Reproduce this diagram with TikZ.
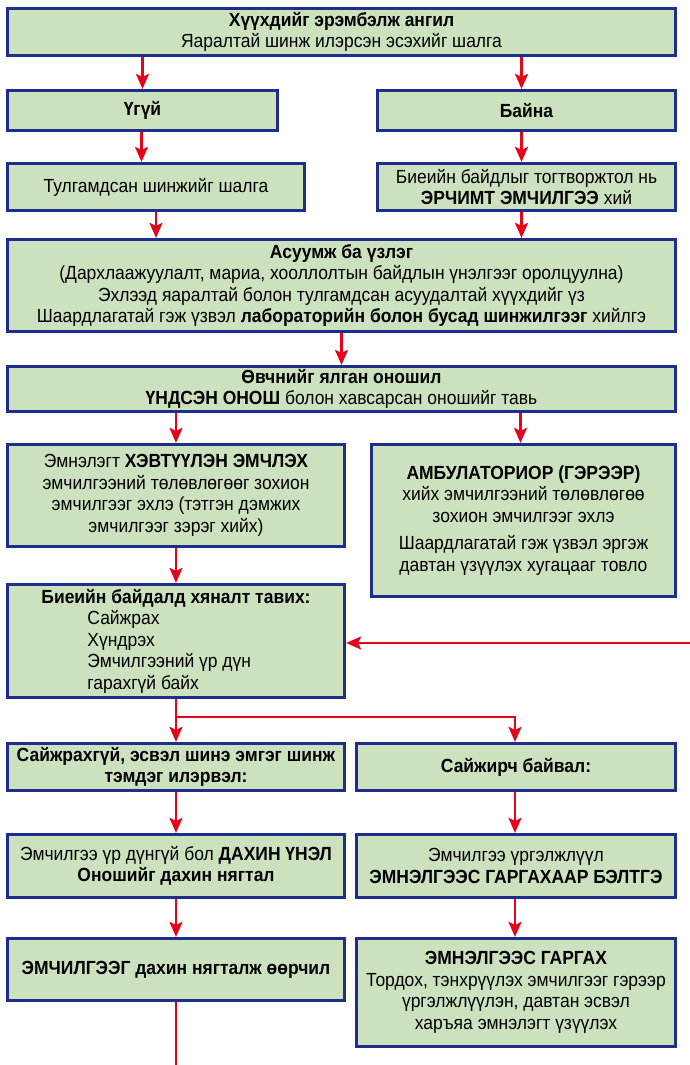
\documentclass[tikz,border=0pt]{standalone}
\usepackage{fontspec}
\setmainfont[FakeStretch=0.92]{Liberation Sans}
\usepackage{tikz}
\usetikzlibrary{positioning,arrows.meta}
\definecolor{bg}{HTML}{CCE2BE}
\definecolor{edge}{HTML}{1F2D8C}
\definecolor{flow}{HTML}{E3061B}

\begin{document}
\begin{tikzpicture}[x=1pt,y=-1pt,font=\fontsize{19}{21.5}\selectfont,>={Stealth[length=15pt,width=13pt,inset=3pt]}]
\tikzstyle{b}=[draw=edge,fill=bg,line width=2.7pt,align=center,inner sep=2pt]
\tikzstyle{r}=[->,draw=flow,line width=2.5pt]
\useasboundingbox (0,0) rectangle (690,1065);
% top row
\node[b,minimum width=668.5,minimum height=47.5] (sort) at (341.5,32) {\textbf{Хүүхдийг эрэмбэлж ангил}\\Яаралтай шинж илэрсэн эсэхийг шалга};
\node[b,minimum width=270.5,minimum height=40.5] (no) at (142.5,110.5) {\textbf{Үгүй}};
\node[b,minimum width=298.5,minimum height=40.5] (yes) at (526.5,110.5) {\textbf{Байна}};
\node[b,minimum width=297.5,minimum height=47.5] (prio) at (156,187) {Тулгамдсан шинжийг шалга};
\node[b,minimum width=298.5,minimum height=47.5] (emerg) at (526.5,187) {Биеийн байдлыг тогтворжтол нь\\\textbf{ЭРЧИМТ ЭМЧИЛГЭЭ} хий};
% history and diagnosis
\node[b,minimum width=668.5,minimum height=92.5] (hist) at (341.5,285.5) {\textbf{Асуумж ба үзлэг}\\(Дархлаажуулалт, мариа, хооллолтын байдлын үнэлгээг оролцуулна)\\Эхлээд яаралтай болон тулгамдсан асуудалтай хүүхдийг үз\\Шаардлагатай гэж үзвэл \textbf{лабораторийн болон бусад шинжилгээг} хийлгэ};
\node[b,minimum width=668.5,minimum height=45.5] (diag) at (341.5,389) {\textbf{Өвчнийг ялган оношил}\\\textbf{ҮНДСЭН ОНОШ} болон хавсарсан оношийг тавь};
% treatment
\node[b,minimum width=337.5,minimum height=102.5] (inpat) at (176,495.5) {Эмнэлэгт \textbf{ХЭВТҮҮЛЭН ЭМЧЛЭХ}\\эмчилгээний төлөвлөгөөг зохион\\эмчилгээг эхлэ (тэтгэн дэмжих\\эмчилгээг зэрэг хийх)};
\node[b,minimum width=303.5,minimum height=152.5] (outpat) at (523.5,520.5) {\textbf{АМБУЛАТОРИОР (ГЭРЭЭР)}\\хийх эмчилгээний төлөвлөгөө\\зохион эмчилгээг эхлэ\\[6pt]Шаардлагатай гэж үзвэл эргэж\\давтан үзүүлэх хугацааг товло};
\node[b,align=left,minimum width=337.5,minimum height=113.5] (watch) at (176,641) {\textbf{Биеийн байдалд хяналт тавих:}\\\hspace*{46pt}Сайжрах\\\hspace*{46pt}Хүндрэх\\\hspace*{46pt}Эмчилгээний үр дүн\\\hspace*{46pt}гарахгүй байх};
% follow up
\node[b,minimum width=337.5,minimum height=47.5] (worse) at (176,767) {\textbf{Сайжрахгүй, эсвэл шинэ эмгэг шинж}\\\textbf{тэмдэг илэрвэл:}};
\node[b,minimum width=319.5,minimum height=47.5] (better) at (516,767) {\textbf{Сайжирч байвал:}};
\node[b,minimum width=337.5,minimum height=63.5] (recheck) at (176,866) {Эмчилгээ үр дүнгүй бол \textbf{ДАХИН ҮНЭЛ}\\\textbf{Оношийг дахин нягтал}};
\node[b,minimum width=319.5,minimum height=63.5] (prep) at (516,866) {Эмчилгээ үргэлжлүүл\\\textbf{ЭМНЭЛГЭЭС ГАРГАХААР БЭЛТГЭ}};
\node[b,minimum width=337.5,minimum height=62.5] (change) at (176,969.5) {\textbf{ЭМЧИЛГЭЭГ дахин нягталж өөрчил}};
\node[b,minimum width=319.5,minimum height=108.5] (disch) at (516,992.5) {\textbf{ЭМНЭЛГЭЭС ГАРГАХ}\\Тордох, тэнхрүүлэх эмчилгээг гэрээр\\үргэлжлүүлэн, давтан эсвэл\\харъяа эмнэлэгт үзүүлэх};
\coordinate (back) at (690,643);
\coordinate (down) at (176,1065);
% arrows
\draw[r] (sort.south -| no.south) -- (no.north);
\draw[r] ([xshift=-5pt]sort.south -| yes.south) -- ([xshift=-5pt]yes.north);
\draw[r] ([xshift=-1pt]no.south) -- ([xshift=-1pt]no.south |- prio.north);
\draw[r] ([xshift=-5pt]yes.south) -- ([xshift=-5pt]emerg.north);
\draw[r] (prio.south) -- (prio.south |- hist.north);
\draw[r] ([xshift=-5pt]emerg.south) -- ([xshift=-5pt]emerg.south |- hist.north);
\draw[r] (hist.south) -- (diag.north);
\draw[r] (diag.south -| inpat.north) -- (inpat.north);
\draw[r] ([xshift=-3pt]diag.south -| outpat.north) -- ([xshift=-3pt]outpat.north);
\draw[r] (inpat.south) -- (watch.north);
\draw[r] (back) -- (back -| watch.east);
\draw[r] (watch.south) -- (worse.north);
\draw[r] (watch.south) -- ++(0,18) -| ([xshift=-1pt]better.north);
\draw[r] (worse.south) -- (recheck.north);
\draw[r] ([xshift=-1pt]better.south) -- ([xshift=-1pt]prep.north);
\draw[r] (recheck.south) -- (change.north);
\draw[r] ([xshift=-1pt]prep.south) -- ([xshift=-1pt]disch.north);
\draw[flow,line width=2.5pt] (change.south) -- (down);
\end{tikzpicture}
\end{document}
